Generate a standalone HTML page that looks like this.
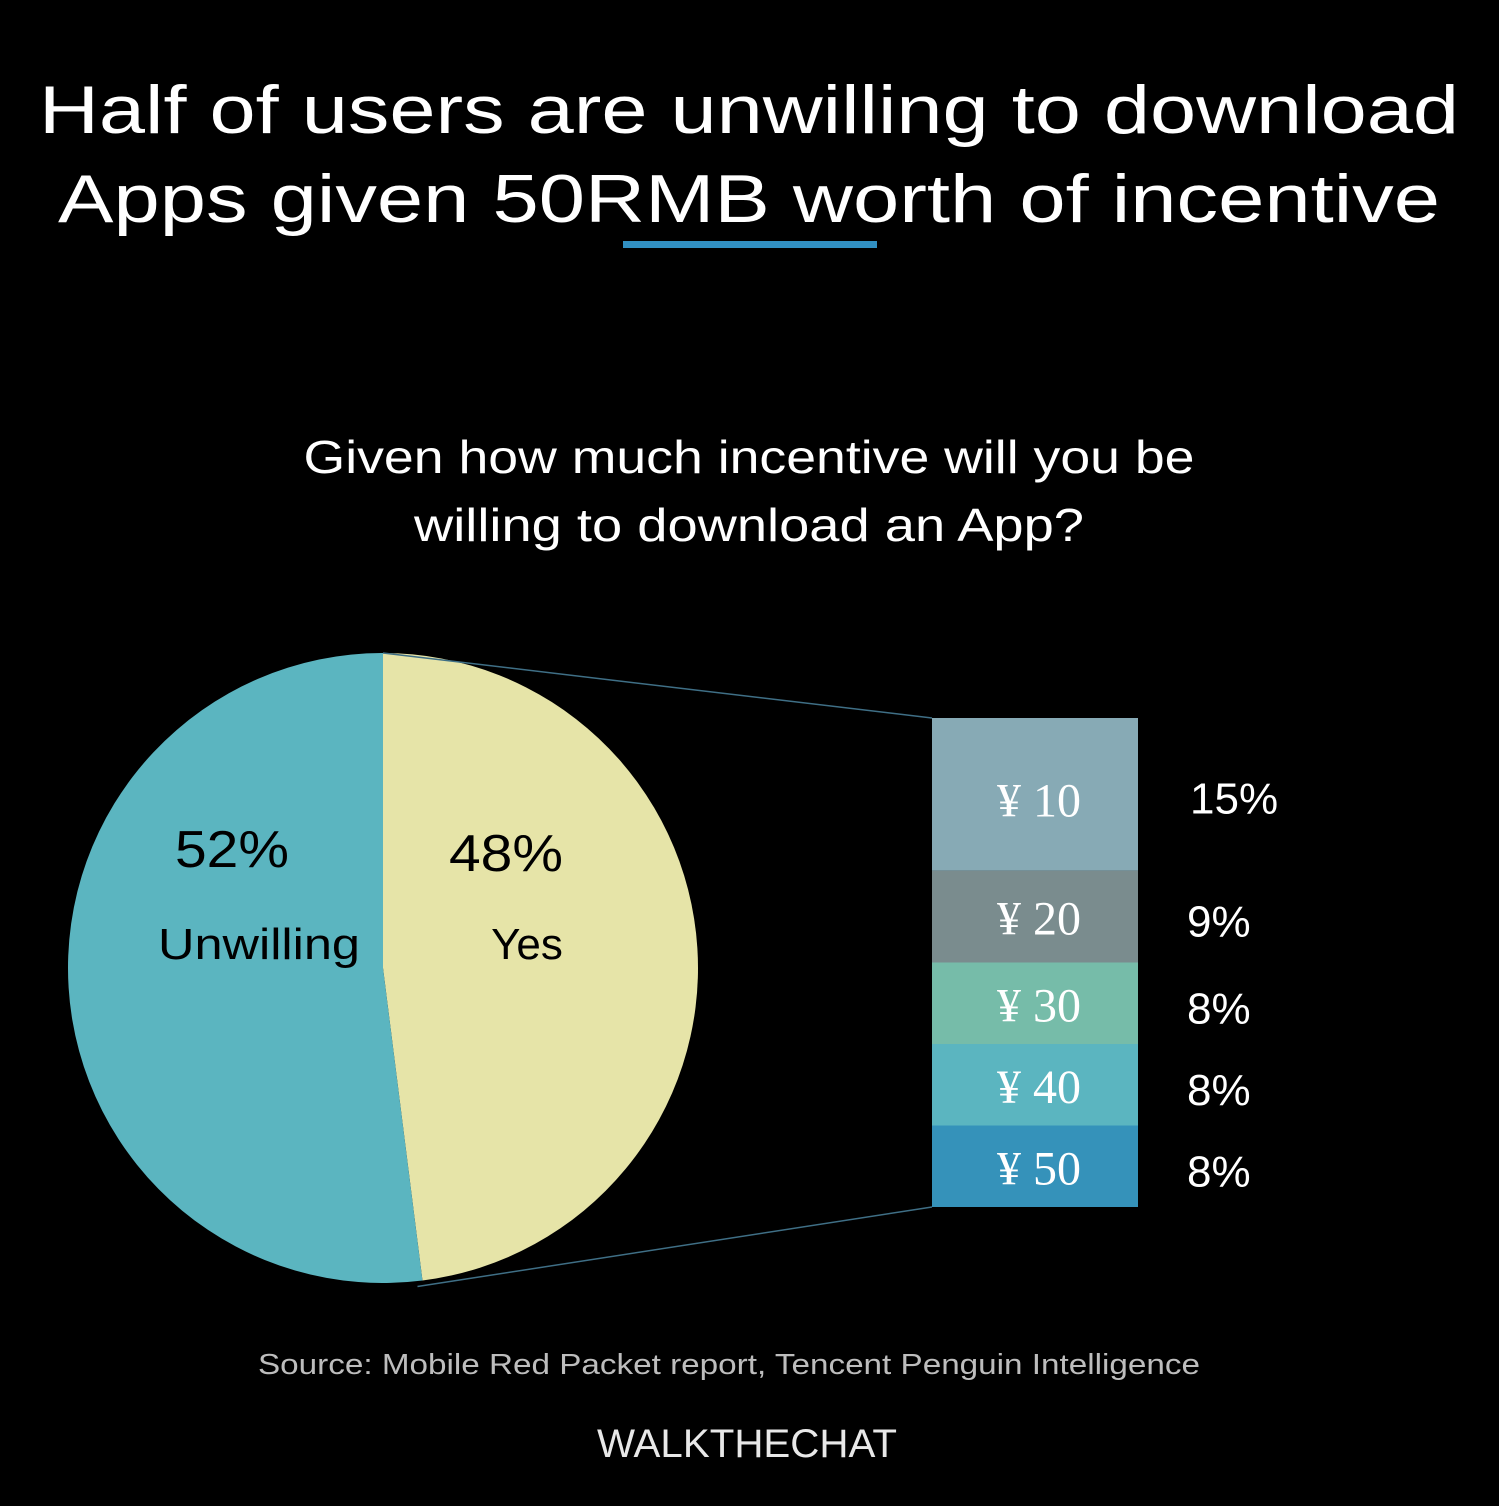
<!DOCTYPE html>
<html><head><meta charset="utf-8"><style>
html,body{margin:0;padding:0;background:#000;}
svg{display:block}
</style></head><body>
<svg id="chart" width="1499" height="1506" viewBox="0 0 1499 1506" xmlns="http://www.w3.org/2000/svg">
<rect width="1499" height="1506" fill="#000"/>
<text x="749" y="133" text-anchor="middle" font-family="Liberation Sans, sans-serif" font-size="68" fill="#fff" textLength="1420" lengthAdjust="spacingAndGlyphs">Half of users are unwilling to download</text>
<text x="749" y="222" text-anchor="middle" font-family="Liberation Sans, sans-serif" font-size="68" fill="#fff" textLength="1382" lengthAdjust="spacingAndGlyphs">Apps given 50RMB worth of incentive</text>
<rect x="623" y="241" width="254" height="7" fill="#3190c2"/>
<text x="749" y="473" text-anchor="middle" font-family="Liberation Sans, sans-serif" font-size="46" fill="#fff" textLength="891" lengthAdjust="spacingAndGlyphs">Given how much incentive will you be</text>
<text x="749" y="541" text-anchor="middle" font-family="Liberation Sans, sans-serif" font-size="46" fill="#fff" textLength="670" lengthAdjust="spacingAndGlyphs">willing to download an App?</text>
<g id="pie"></g>
<g id="bar"></g>
<text x="232" y="867" text-anchor="middle" font-family="Liberation Sans, sans-serif" font-size="52" fill="#000" textLength="114" lengthAdjust="spacingAndGlyphs">52%</text>
<text x="259" y="959" text-anchor="middle" font-family="Liberation Sans, sans-serif" font-size="44" fill="#000" textLength="202" lengthAdjust="spacingAndGlyphs">Unwilling</text>
<text x="506" y="871" text-anchor="middle" font-family="Liberation Sans, sans-serif" font-size="52" fill="#000" textLength="114" lengthAdjust="spacingAndGlyphs">48%</text>
<text x="527" y="959" text-anchor="middle" font-family="Liberation Sans, sans-serif" font-size="44" fill="#000">Yes</text>
<text x="729" y="1374" text-anchor="middle" font-family="Liberation Sans, sans-serif" font-size="29" fill="#bdbdbd" textLength="942" lengthAdjust="spacingAndGlyphs">Source: Mobile Red Packet report, Tencent Penguin Intelligence</text>
<text x="747" y="1457" text-anchor="middle" font-family="Liberation Sans, sans-serif" font-size="40" fill="#e8e8e8" textLength="300" lengthAdjust="spacingAndGlyphs">WALKTHECHAT</text>
</svg>
<script>
const pieCategories = ["Yes", "Unwilling"];
const pieValues = [48, 52];
const barCategories = ["¥ 10", "¥ 20", "¥ 30", "¥ 40", "¥ 50"];
const barValues = [15, 9, 8, 8, 8];
const barLabels = ["15%", "9%", "8%", "8%", "8%"];

const NS = "http://www.w3.org/2000/svg";
const pieColors = ["#e6e4a8", "#5bb5c0"];
const barColors = ["#87aab5", "#7a8c8e", "#76bca9", "#5bb5c0", "#3592ba"];
const cx = 383, cy = 968, r = 315;
const total = pieValues.reduce((a, b) => a + b, 0);
function angle(v) { return v / total * 2 * Math.PI; }
function pt(a) { return [cx + r * Math.sin(a), cy - r * Math.cos(a)]; }

const pie = document.getElementById('pie');
let acc = 0;
pieValues.forEach((v, i) => {
  const a0 = angle(acc), a1 = angle(acc + v);
  const p0 = pt(a0), p1 = pt(a1);
  const large = (a1 - a0) > Math.PI ? 1 : 0;
  const path = document.createElementNS(NS, 'path');
  path.setAttribute('d', `M${cx},${cy} L${p0[0]},${p0[1]} A${r},${r} 0 ${large} 1 ${p1[0]},${p1[1]} Z`);
  path.setAttribute('fill', pieColors[i]);
  
  
  pie.appendChild(path);
  acc += v;
});

const bar = document.getElementById('bar');
const bx = 932, bw = 206, by = 718;
const barTotal = barValues.reduce((a, b) => a + b, 0);
const bh = 489;
function yScale(v) { return v / barTotal * bh; }
const yesEnd = pt(angle(pieValues[0]));
const lines = [[cx, cy - r, bx, by], [yesEnd[0] - 5, yesEnd[1] + 6, bx, by + bh]];
lines.forEach((l, i) => {
  const ln = document.createElementNS(NS, 'line');
  ln.setAttribute('x1', l[0]); ln.setAttribute('y1', l[1]);
  ln.setAttribute('x2', l[2]); ln.setAttribute('y2', l[3]);
  ln.setAttribute('stroke', '#3f6f86'); ln.setAttribute('stroke-width', '1.5');
  
  
  bar.appendChild(ln);
});
let y = by;
barValues.forEach((v, i) => {
  const h = yScale(v);
  const rect = document.createElementNS(NS, 'rect');
  rect.setAttribute('x', bx); rect.setAttribute('y', y);
  rect.setAttribute('width', bw); rect.setAttribute('height', h);
  rect.setAttribute('fill', barColors[i]);
  
  
  bar.appendChild(rect);
  const base = i === 0 ? y + h / 2 + 22 : y + h / 2 + 18;
  const t = document.createElementNS(NS, 'text');
  t.setAttribute('x', bx + bw / 2 + 4); t.setAttribute('y', base);
  t.setAttribute('text-anchor', 'middle');
  t.setAttribute('font-family', 'Liberation Serif, Noto Serif CJK SC, serif');
  t.setAttribute('font-size', '48'); t.setAttribute('fill', '#fff');
  t.textContent = barCategories[i];
  
  
  bar.appendChild(t);
  const p = document.createElementNS(NS, 'text');
  p.setAttribute('x', i === 0 ? 1190 : 1187); p.setAttribute('y', i === 0 ? base - 3 : base + 2);
  p.setAttribute('font-family', 'Liberation Sans, sans-serif');
  p.setAttribute('font-size', '44'); p.setAttribute('fill', '#fff');
  p.textContent = barLabels[i];
  
  
  bar.appendChild(p);
  y += h;
});
</script>
</body></html>
